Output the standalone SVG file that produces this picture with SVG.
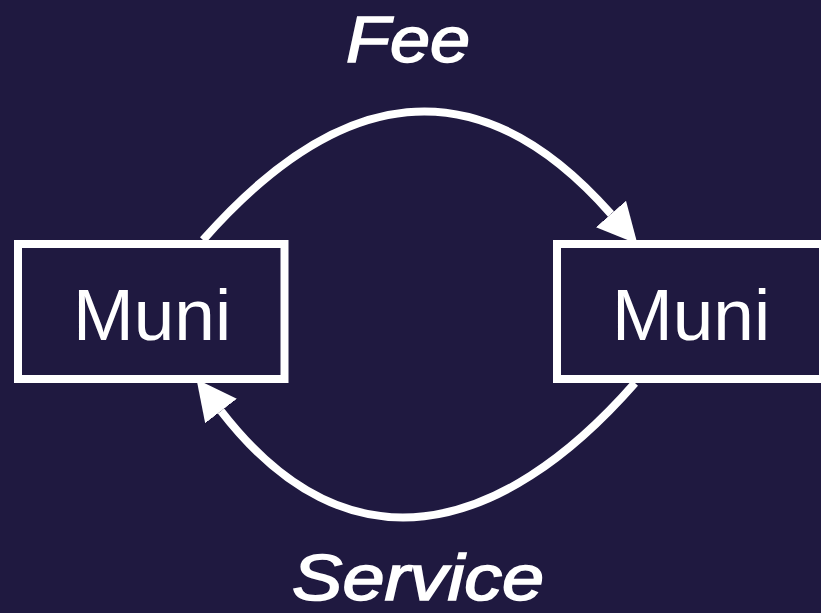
<svg xmlns="http://www.w3.org/2000/svg" width="821" height="613" viewBox="0 0 821 613">
<defs>
<style>
.box{fill:none;stroke:#fff;stroke-width:8}
.lbl{fill:#fff;font-family:"Liberation Sans",Arial,sans-serif;font-size:73px;text-anchor:middle}
.edge{fill:#fff;stroke:#fff;stroke-width:1.6;font-family:"Liberation Sans",Arial,sans-serif;font-style:italic;font-size:65px;text-anchor:middle}
.conn{fill:none;stroke:#fff;stroke-width:8}
</style>
<marker id="ah" markerUnits="userSpaceOnUse" markerWidth="40" markerHeight="40" viewBox="0 0 34 34" refX="0" refY="17" orient="auto">
<path d="M0,0 L34,17 L0,34 Z" fill="#fff"/>
</marker>
</defs>
<rect width="821" height="613" fill="#1f1940"/>
<g id="connectors">
<path class="conn" d="M203,240 C338,87 476,61 611,214" marker-end="url(#ah)"/>
<path class="conn" d="M635,383 C499,538 347,574 221,411" marker-end="url(#ah)"/>
</g>
<g id="muni-left">
<rect class="box" x="18" y="244" width="266.5" height="135"/>
<text class="lbl" x="152" y="340">Muni</text>
</g>
<g id="muni-right">
<rect class="box" x="557" y="244" width="266" height="135"/>
<text class="lbl" x="691" y="340">Muni</text>
</g>
<g id="label-fee">
<text class="edge" x="408" y="62" textLength="124" lengthAdjust="spacingAndGlyphs">Fee</text>
</g>
<g id="label-service">
<text class="edge" x="418" y="600" textLength="252" lengthAdjust="spacingAndGlyphs">Service</text>
</g>
</svg>
